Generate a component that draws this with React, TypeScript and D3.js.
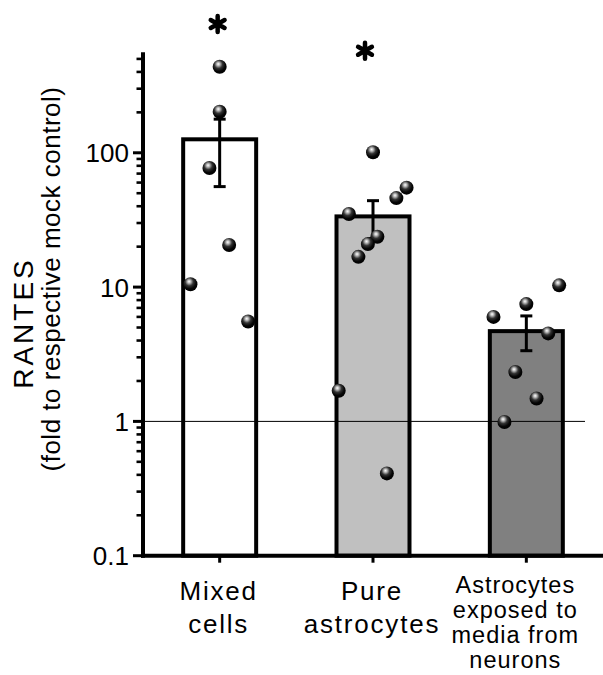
import React from "react";
import * as d3 from "d3";

const categories = ["Mixed cells", "Pure astrocytes", "Astrocytes exposed to media from neurons"];
const labelLines = [["Mixed", "cells"], ["Pure", "astrocytes"], ["Astrocytes", "exposed to", "media from", "neurons"]];
const means = [126, 33.6, 4.7];
const errLow = [56, 23, 3.36];
const errHigh = [178, 44, 6.1];
const mixedValues = [437, 202, 77, 20.6, 10.5, 5.55];
const mixedJitter = [0, 0, -0.14, 0.13, -0.4, 0.39];
const pureValues = [101, 55, 46, 35, 23.7, 20.9, 16.8, 1.69, 0.41];
const pureJitter = [0, 0.46, 0.32, -0.33, 0.06, -0.07, -0.2, -0.47, 0.19];
const exposedValues = [6.0, 7.47, 10.3, 4.52, 2.33, 1.48, 0.99];
const exposedJitter = [-0.45, 0, 0.45, 0.3, -0.15, 0.14, -0.3];
const significanceLevel = [910, 575, null];
const majorTicks = [0.1, 1, 10, 100];
const fills = ["#ffffff", "#c0c0c0", "#808080"];
const yTitle = ["RANTES", "(fold to respective mock control)"];

const W = 603;
const H = 675;
const FONT = "'Liberation Sans', Arial, sans-serif";

export default function App() {
  const groups = [
    { values: mixedValues, jitter: mixedJitter },
    { values: pureValues, jitter: pureJitter },
    { values: exposedValues, jitter: exposedJitter },
  ];
  const y = d3.scaleLog().domain([0.1, 560]).range([555.7, 52.3]);
  const x = d3.scaleBand<string>().domain(categories).range([143, 603]).paddingInner(0.524).paddingOuter(0.262);
  const bw = x.bandwidth();
  const cx = (c: string) => (x(c) as number) + bw / 2;

  const minorTicks: number[] = [];
  [0.1, 1, 10, 100].forEach((d) => {
    for (let k = 2; k <= 9; k++) {
      const v = d * k;
      if (v <= 560) minorTicks.push(v);
    }
  });

  const star = d3.symbol().type(d3.symbolAsterisk).size(180)();
  const axisLeft = 143;
  const yBase = y(0.1);

  return (
    <svg width={W} height={H} style={{ position: "absolute", left: 0, top: 0, background: "#fff" }}>
      <defs>
        <radialGradient id="ball" cx="0.42" cy="0.35" r="0.65" fx="0.4" fy="0.3">
          <stop offset="0" stopColor="#ffffff" />
          <stop offset="0.18" stopColor="#bbbbbb" />
          <stop offset="0.45" stopColor="#333333" />
          <stop offset="0.75" stopColor="#050505" />
          <stop offset="1" stopColor="#000000" />
        </radialGradient>
      </defs>

      {/* bars */}
      {categories.map((c, i) => (
        <rect
          key={c}
          x={x(c) as number}
          y={y(means[i])}
          width={bw}
          height={yBase - y(means[i])}
          fill={fills[i]}
          stroke="#000"
          strokeWidth={4}
        />
      ))}

      {/* error bars */}
      {categories.map((c, i) => (
        <g key={"e" + c} stroke="#000" strokeWidth={3}>
          <line x1={cx(c)} x2={cx(c)} y1={y(errLow[i])} y2={y(errHigh[i])} />
          <line x1={cx(c) - 6} x2={cx(c) + 6} y1={y(errHigh[i])} y2={y(errHigh[i])} />
          <line x1={cx(c) - 6} x2={cx(c) + 6} y1={y(errLow[i])} y2={y(errLow[i])} />
        </g>
      ))}

      {/* reference line at 1 */}
      <line x1={axisLeft} x2={585} y1={y(1)} y2={y(1)} stroke="#000" strokeWidth={1} />

      {/* points */}
      {categories.map((c, i) =>
        groups[i].values.map((v, j) => (
          <circle key={c + j} cx={cx(c) + groups[i].jitter[j] * bw} cy={y(v)} r={7} fill="url(#ball)" />
        ))
      )}

      {/* significance */}
      {categories.map((c, i) =>
        significanceLevel[i] != null ? (
          <path
            key={"s" + c}
            d={star as string}
            transform={`translate(${cx(c) - (i === 0 ? 2 : 8)},${y(significanceLevel[i] as number)})`}
            fill="none"
            stroke="#000"
            strokeWidth={4.5}
            strokeLinecap="round"
          />
        ) : null
      )}

      {/* y axis */}
      <line x1={axisLeft} x2={axisLeft} y1={yBase + 2} y2={y(560)} stroke="#000" strokeWidth={4} />
      {minorTicks.map((t) => (
        <line key={"m" + t} x1={axisLeft - 6.5} x2={axisLeft} y1={y(t)} y2={y(t)} stroke="#000" strokeWidth={2.6} />
      ))}
      {majorTicks.map((t) => (
        <g key={"M" + t}>
          <line x1={axisLeft - 10} x2={axisLeft} y1={y(t)} y2={y(t)} stroke="#000" strokeWidth={3} />
          <text x={129} y={y(t) + 9.5} textAnchor="end" fontFamily={FONT} fontSize={26} fill="#000">
            {d3.format("~g")(t)}
          </text>
        </g>
      ))}

      {/* x axis */}
      <line x1={axisLeft - 2} x2={603} y1={yBase} y2={yBase} stroke="#000" strokeWidth={4} />
      {categories.map((c) => (
        <line key={"xt" + c} x1={cx(c)} x2={cx(c)} y1={yBase} y2={yBase + 7} stroke="#000" strokeWidth={3} />
      ))}
      {categories.map((c, i) => {
        const lines = labelLines[i];
        const small = lines.length > 2;
        return (
          <text
            key={"xl" + c}
            textAnchor="middle"
            fontFamily={FONT}
            fontSize={small ? 23.5 : 26}
            letterSpacing={small ? 1 : 1.8}
            fill="#000"
          >
            {lines.map((l, k) => (
              <tspan key={k} x={cx(c) + (small ? -11 : -1)} y={(small ? 593 : 600) + k * (small ? 25 : 33)}>
                {l}
              </tspan>
            ))}
          </text>
        );
      })}

      {/* y title */}
      <text
        transform={`translate(33,323) rotate(-90)`}
        textAnchor="middle"
        fontFamily={FONT}
        fontSize={28}
        letterSpacing={3}
        fill="#000"
      >
        {yTitle[0]}
      </text>
      <text
        transform={`translate(60,279) rotate(-90)`}
        textAnchor="middle"
        fontFamily={FONT}
        fontSize={26}
        letterSpacing={0.5}
        fill="#000"
      >
        {yTitle[1]}
      </text>
    </svg>
  );
}
